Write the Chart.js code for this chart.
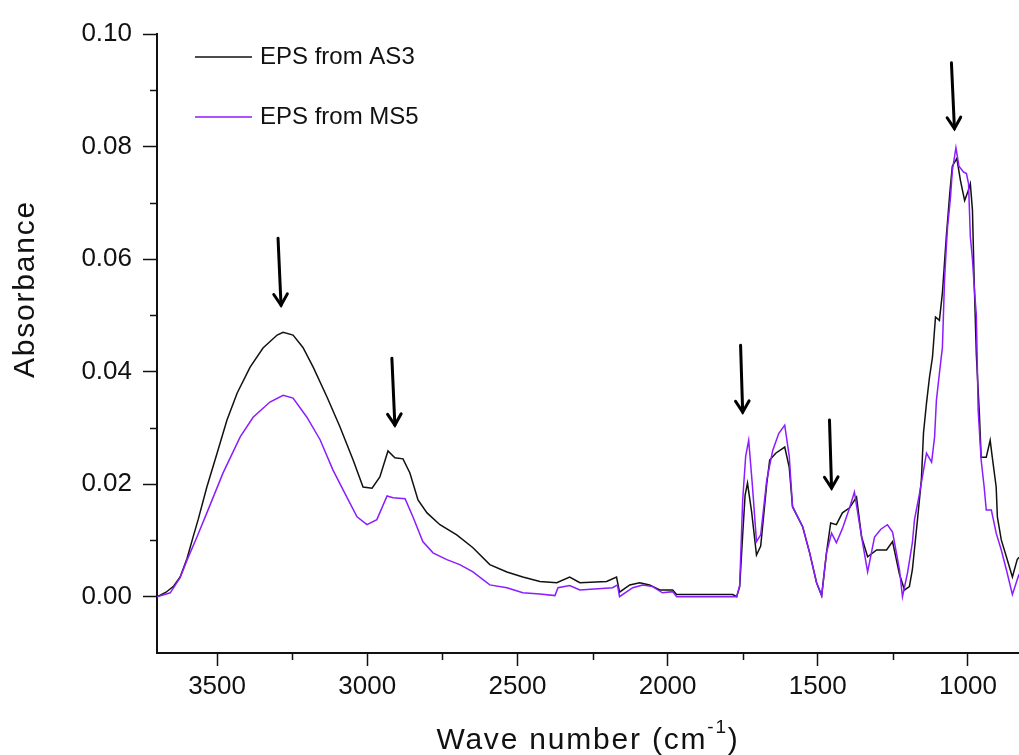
<!DOCTYPE html>
<html lang="en">
<head>
<meta charset="UTF-8">
<title>FTIR spectra of EPS</title>
<style>
  html, body { margin: 0; padding: 0; background: #fff; }
  canvas { display: block; }
</style>
<script src="https://cdn.jsdelivr.net/npm/chart.js"></script>
</head>
<body>
<canvas id="ftir" width="1019" height="755"></canvas>
<script>
// wave number (cm-1) / absorbance pairs
const wnAS3 = [3700, 3670, 3646, 3623, 3600, 3580, 3563, 3534, 3500, 3467, 3433, 3390, 3347, 3300, 3280,
  3247, 3214, 3180, 3134, 3091, 3047, 3014, 2984, 2958, 2931, 2908, 2881, 2858, 2831, 2801, 2758, 2702,
  2648, 2592, 2535, 2482, 2425, 2369, 2326, 2292, 2203, 2170, 2160, 2126, 2093, 2060, 2026, 1983, 1970,
  1870, 1783, 1770, 1760, 1750, 1742, 1734, 1720, 1704, 1690, 1670, 1660, 1640, 1610, 1595, 1584, 1550,
  1527, 1504, 1487, 1471, 1457, 1438, 1418, 1394, 1371, 1354, 1334, 1304, 1271, 1251, 1228, 1211, 1195,
  1185, 1168, 1155, 1148, 1138, 1128, 1118, 1108, 1095, 1085, 1072, 1060, 1052, 1037, 1025, 1011, 1000,
  992, 985, 979, 972, 962, 956, 939, 926, 919, 906, 902, 889, 872, 852, 836, 830];
const absAS3 = [0, 0.0008, 0.0018, 0.0035, 0.0068, 0.0106, 0.0137, 0.0195, 0.0255, 0.0314, 0.0362, 0.0408,
  0.0442, 0.0465, 0.0470, 0.0465, 0.0443, 0.0408, 0.0355, 0.0302, 0.0243, 0.0195, 0.0193, 0.0213, 0.0259,
  0.0247, 0.0245, 0.0220, 0.0172, 0.0149, 0.0128, 0.0110, 0.0087, 0.0057, 0.0044, 0.0035, 0.0027, 0.0025,
  0.0035, 0.0025, 0.0027, 0.0035, 0.0008, 0.0021, 0.0025, 0.0021, 0.0012, 0.0012, 0.0004, 0.0004, 0.0004,
  0, 0.0018, 0.0110, 0.0180, 0.0202, 0.0150, 0.0074, 0.0090, 0.0200, 0.0243, 0.0255, 0.0266, 0.0230,
  0.0160, 0.0124, 0.0078, 0.0025, 0.0002, 0.0078, 0.0131, 0.0128, 0.0149, 0.0158, 0.0177, 0.0106, 0.0071,
  0.0083, 0.0083, 0.0098, 0.0040, 0.0012, 0.0018, 0.0048, 0.0137, 0.0208, 0.0291, 0.0344, 0.0390, 0.0426,
  0.0497, 0.0491, 0.0540, 0.0640, 0.0720, 0.0765, 0.0779, 0.0740, 0.0704, 0.0720, 0.0734, 0.0687, 0.0557,
  0.0430, 0.0326, 0.0248, 0.0248, 0.0278, 0.0248, 0.0195, 0.0142, 0.0101, 0.0071, 0.0035, 0.0066, 0.0070];

const wnMS5 = [3700, 3656, 3623, 3600, 3567, 3534, 3480, 3423, 3380, 3324, 3280, 3247, 3201, 3157, 3114,
  3068, 3034, 3001, 2968, 2934, 2914, 2874, 2848, 2815, 2781, 2735, 2692, 2648, 2592, 2535, 2482, 2425,
  2375, 2365, 2326, 2292, 2183, 2167, 2160, 2116, 2083, 2050, 2017, 1983, 1970, 1870, 1770, 1760, 1750,
  1740, 1730, 1718, 1704, 1690, 1670, 1650, 1630, 1610, 1595, 1584, 1550, 1527, 1504, 1487, 1471, 1454,
  1438, 1418, 1394, 1378, 1354, 1334, 1311, 1290, 1268, 1251, 1228, 1218, 1201, 1185, 1178, 1161, 1138,
  1121, 1111, 1105, 1095, 1085, 1078, 1072, 1068, 1058, 1052, 1040, 1030, 1015, 1005, 998, 992, 985, 979,
  972, 966, 956, 946, 939, 922, 906, 889, 872, 852, 836, 830];
const absMS5 = [0, 0.0007, 0.0034, 0.0065, 0.0106, 0.0149, 0.0220, 0.0284, 0.0319, 0.0346, 0.0358, 0.0353,
  0.0319, 0.0279, 0.0225, 0.0177, 0.0142, 0.0128, 0.0137, 0.0179, 0.0176, 0.0174, 0.0142, 0.0098, 0.0078,
  0.0066, 0.0057, 0.0044, 0.0021, 0.0016, 0.0007, 0.0005, 0.0002, 0.0016, 0.0020, 0.0012, 0.0016, 0.0021,
  0, 0.0016, 0.0021, 0.0018, 0.0007, 0.0009, 0, 0, 0, 0.0020, 0.0172, 0.0250, 0.0278, 0.0200, 0.0098,
  0.0110, 0.0207, 0.0260, 0.0290, 0.0305, 0.0250, 0.0160, 0.0124, 0.0078, 0.0025, 0.0002, 0.0078, 0.0113,
  0.0096, 0.0121, 0.0158, 0.0186, 0.0106, 0.0044, 0.0106, 0.0120, 0.0128, 0.0115, 0.0048, 0, 0.0043,
  0.0096, 0.0137, 0.0184, 0.0255, 0.0239, 0.0284, 0.0349, 0.0397, 0.0443, 0.0562, 0.0621, 0.0656, 0.0710,
  0.0757, 0.0798, 0.0765, 0.0755, 0.0752, 0.0734, 0.0640, 0.0600, 0.0550, 0.0500, 0.0332, 0.0243, 0.0195,
  0.0154, 0.0154, 0.0113, 0.0083, 0.0048, 0.0004, 0.0030, 0.0040];

const seriesNames = ["EPS from AS3", "EPS from MS5"];
const seriesColors = ["#111111", "#8b1cff"];

// arrows pointing at the bands: tail and tip as (wave number, absorbance)
const arrowTailWn = [3297, 2918, 1757, 1461, 1055];
const arrowTailAbs = [0.0637, 0.0424, 0.0447, 0.0314, 0.0949];
const arrowTipWn = [3287, 2908, 1750, 1454, 1045];
const arrowTipAbs = [0.0518, 0.0305, 0.0328, 0.0193, 0.0832];

const FONT = "'Liberation Sans', Arial, sans-serif";

function pairs(xs, ys) {
  return xs.map((v, i) => ({ x: v, y: ys[i] }));
}

const isMajorY = v => Math.round(v * 100) % 2 === 0;
const isMajorX = v => Math.round(v) % 500 === 0;

// minor ticks, titles, legend and arrows
const decor = {
  id: 'decor',
  afterDraw(chart) {
    const { ctx, chartArea: a, scales: { x, y } } = chart;
    ctx.save();
    ctx.strokeStyle = '#111';
    ctx.lineWidth = 1.5;
    y.ticks.forEach(t => {
      if (isMajorY(t.value) || t.value < 0) return;
      const py = Math.round(y.getPixelForValue(t.value)) + 0.5;
      ctx.beginPath(); ctx.moveTo(a.left - 7, py); ctx.lineTo(a.left, py); ctx.stroke();
    });
    x.ticks.forEach(t => {
      if (isMajorX(t.value)) return;
      const px = Math.round(x.getPixelForValue(t.value)) + 0.5;
      ctx.beginPath(); ctx.moveTo(px, a.bottom); ctx.lineTo(px, a.bottom + 7); ctx.stroke();
    });

    // axis titles
    ctx.fillStyle = '#111';
    ctx.letterSpacing = '1.8px';
    ctx.font = '30px ' + FONT;
    ctx.save();
    ctx.translate(34, 289);
    ctx.rotate(-Math.PI / 2);
    ctx.textAlign = 'center';
    ctx.textBaseline = 'alphabetic';
    ctx.fillText('Absorbance', 0, 0);
    ctx.restore();

    const main = 'Wave number (cm', sup = '-1', tail = ')';
    ctx.font = '30px ' + FONT;
    const w1 = ctx.measureText(main).width, w3 = ctx.measureText(tail).width;
    ctx.font = '19px ' + FONT;
    const w2 = ctx.measureText(sup).width;
    const tx = (a.left + a.right) / 2 - (w1 + w2 + w3) / 2;
    const ty = 749;
    ctx.textAlign = 'left';
    ctx.textBaseline = 'alphabetic';
    ctx.font = '30px ' + FONT;
    ctx.fillText(main, tx, ty);
    ctx.font = '19px ' + FONT;
    ctx.fillText(sup, tx + w1, ty - 16);
    ctx.font = '30px ' + FONT;
    ctx.fillText(tail, tx + w1 + w2, ty);
    ctx.letterSpacing = '0px';

    // legend
    ctx.font = '24px ' + FONT;
    ctx.textBaseline = 'middle';
    chart.data.datasets.forEach((ds, i) => {
      const ly = a.top + 23 + i * 60;
      ctx.strokeStyle = ds.borderColor;
      ctx.lineWidth = 1.5;
      ctx.beginPath(); ctx.moveTo(a.left + 38, ly); ctx.lineTo(a.left + 95, ly); ctx.stroke();
      ctx.fillStyle = '#111';
      ctx.fillText(ds.label, a.left + 103, ly);
    });

    // arrows
    ctx.strokeStyle = '#000';
    ctx.lineWidth = 3;
    ctx.lineCap = 'round';
    arrowTipWn.forEach((wn, i) => {
      const x0 = x.getPixelForValue(arrowTailWn[i]), y0 = y.getPixelForValue(arrowTailAbs[i]);
      const x1 = x.getPixelForValue(wn), y1 = y.getPixelForValue(arrowTipAbs[i]);
      const ang = Math.atan2(y1 - y0, x1 - x0);
      ctx.beginPath(); ctx.moveTo(x0, y0); ctx.lineTo(x1, y1); ctx.stroke();
      ctx.beginPath();
      ctx.moveTo(x1 - 13 * Math.cos(ang - 0.55), y1 - 13 * Math.sin(ang - 0.55));
      ctx.lineTo(x1, y1);
      ctx.lineTo(x1 - 13 * Math.cos(ang + 0.55), y1 - 13 * Math.sin(ang + 0.55));
      ctx.stroke();
    });
    ctx.restore();
  }
};

new Chart(document.getElementById('ftir'), {
  type: 'line',
  data: {
    datasets: [
      { label: seriesNames[0], data: pairs(wnAS3, absAS3), borderColor: seriesColors[0], order: 2 },
      { label: seriesNames[1], data: pairs(wnMS5, absMS5), borderColor: seriesColors[1], order: 1 }
    ]
  },
  options: {
    responsive: false,
    animation: false,
    parsing: false,
    layout: { padding: { top: 34, right: 0, bottom: 0, left: 0 } },
    elements: {
      line: { borderWidth: 1.5, tension: 0 },
      point: { radius: 0 }
    },
    plugins: { legend: { display: false }, tooltip: { enabled: false } },
    scales: {
      x: {
        type: 'linear',
        reverse: true,
        min: 830,
        max: 3700,
        afterFit: s => { s.height = 102; },
        border: { display: true, color: '#111', width: 2 },
        grid: {
          drawOnChartArea: false,
          tickLength: 13,
          tickWidth: 1.5,
          tickColor: c => isMajorX(c.tick.value) ? '#111' : 'rgba(0,0,0,0)'
        },
        ticks: {
          stepSize: 250,
          includeBounds: false,
          autoSkip: false,
          maxRotation: 0,
          padding: 5,
          color: '#111',
          font: { family: FONT, size: 26 },
          callback: v => isMajorX(v) ? String(v) : ''
        }
      },
      y: {
        min: -0.01,
        max: 0.10,
        afterFit: s => { s.width = 157; },
        border: { display: true, color: '#111', width: 2 },
        grid: {
          drawOnChartArea: false,
          tickLength: 14,
          tickWidth: 1.5,
          tickColor: c => (isMajorY(c.tick.value) && c.tick.value >= 0) ? '#111' : 'rgba(0,0,0,0)'
        },
        ticks: {
          stepSize: 0.01,
          autoSkip: false,
          padding: 11,
          color: '#111',
          font: { family: FONT, size: 26 },
          callback: v => (isMajorY(v) && v >= 0) ? v.toFixed(2) : ''
        }
      }
    }
  },
  plugins: [decor]
});
</script>
</body>
</html>
